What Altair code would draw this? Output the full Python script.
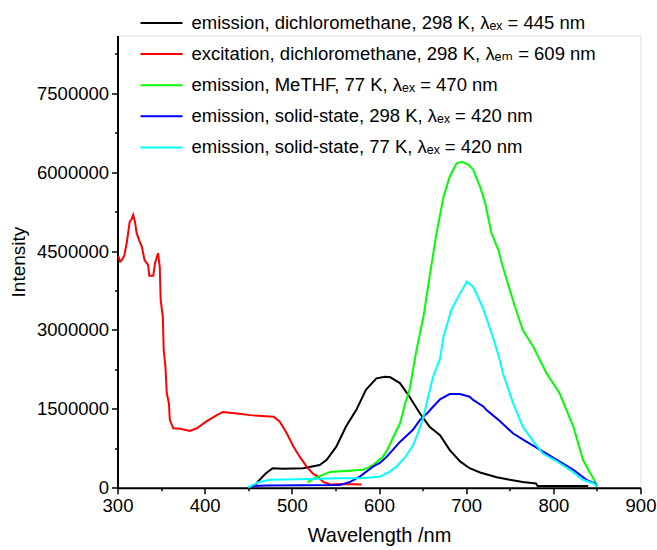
import altair as alt
import pandas as pd

# ---- data ----
labels = [
    "emission, dichloromethane, 298 K, λₑₓ = 445 nm",
    "excitation, dichloromethane, 298 K, λₑₘ = 609 nm",
    "emission, MeTHF, 77 K, λₑₓ = 470 nm",
    "emission, solid-state, 298 K, λₑₓ = 420 nm",
    "emission, solid-state, 77 K, λₑₓ = 420 nm",
]
colors = ["#000000", "#ff0000", "#00ff00", "#0000ff", "#00ffff"]

em_dcm_x = [452, 458, 463, 470, 478, 490, 513, 532, 540, 551, 562, 574, 585, 597, 607, 613, 624, 635, 647, 658, 670, 681, 693, 704, 716, 735, 750, 765, 780, 782, 840]
em_dcm_y = [0.0, 0.05, 0.15, 0.27, 0.37, 0.36, 0.37, 0.43, 0.53, 0.78, 1.16, 1.48, 1.86, 2.08, 2.11, 2.10, 1.99, 1.73, 1.41, 1.16, 1.00, 0.72, 0.50, 0.37, 0.29, 0.20, 0.15, 0.11, 0.08, 0.03, 0.03]

ex_dcm_x = [301, 303, 305, 308, 311, 314, 316, 318, 320, 322, 325, 328, 331, 335, 336.5, 341, 343, 346.5, 348.5, 349.5, 352, 353, 355, 356.5, 359, 360, 364, 372, 383, 391, 402, 414, 421, 437, 452, 479, 486, 494, 502, 509, 517, 524, 530, 536, 544, 560, 580]
ex_dcm_y = [4.40, 4.30, 4.33, 4.42, 4.70, 5.06, 5.10, 5.19, 5.06, 4.84, 4.70, 4.58, 4.33, 4.24, 4.03, 4.03, 4.27, 4.46, 4.20, 3.57, 3.25, 2.62, 2.30, 1.80, 1.60, 1.29, 1.13, 1.12, 1.08, 1.13, 1.26, 1.38, 1.44, 1.41, 1.38, 1.35, 1.26, 1.04, 0.78, 0.59, 0.40, 0.27, 0.21, 0.11, 0.06, 0.07, 0.06]

em_methf_x = [518, 525, 532, 544, 582, 593, 604, 609, 616, 624, 630, 635, 643, 651, 658, 666, 674, 681, 689, 695, 702, 708, 716, 722, 729, 737, 742, 756, 765, 777, 792, 807, 823, 834, 848, 850]
em_methf_y = [0.10, 0.17, 0.22, 0.30, 0.34, 0.43, 0.58, 0.70, 0.95, 1.22, 1.60, 1.86, 2.62, 3.25, 4.01, 4.84, 5.53, 5.91, 6.17, 6.20, 6.15, 6.05, 5.72, 5.40, 4.84, 4.52, 4.20, 3.44, 3.00, 2.68, 2.18, 1.80, 1.16, 0.53, 0.11, 0.03]

em_ss298_x = [450, 455, 470, 555, 567, 578, 593, 601, 609, 624, 639, 647, 655, 662, 670, 681, 693, 704, 708, 720, 723, 737, 754, 769, 785, 804, 823, 838, 848, 850]
em_ss298_y = [0.0, 0.03, 0.04, 0.05, 0.11, 0.21, 0.40, 0.47, 0.59, 0.87, 1.10, 1.29, 1.41, 1.54, 1.68, 1.78, 1.78, 1.73, 1.67, 1.54, 1.48, 1.29, 1.03, 0.875, 0.72, 0.53, 0.34, 0.15, 0.08, 0.03]

em_ss77_x = [450, 455, 463, 475, 509, 555, 578, 601, 612, 620, 630, 639, 645, 651, 656, 662, 670, 674, 683, 693, 701, 708, 713, 720, 731, 739, 742, 754, 765, 777, 788, 804, 819, 834, 846, 850]
em_ss77_y = [0.0, 0.05, 0.11, 0.15, 0.16, 0.18, 0.18, 0.21, 0.30, 0.40, 0.58, 0.80, 1.05, 1.35, 1.70, 2.11, 2.45, 2.87, 3.38, 3.70, 3.92, 3.82, 3.65, 3.38, 2.85, 2.40, 2.18, 1.60, 1.16, 0.88, 0.65, 0.50, 0.34, 0.15, 0.08, 0.03]

x_ticks = [300, 350, 400, 450, 500, 550, 600, 650, 700, 750, 800, 850, 900]
y_ticks = [0, 750000, 1500000, 2250000, 3000000, 3750000, 4500000, 5250000, 6000000, 6750000, 7500000, 8250000]

series = [
    (labels[0], em_dcm_x, em_dcm_y),
    (labels[1], ex_dcm_x, ex_dcm_y),
    (labels[2], em_methf_x, em_methf_y),
    (labels[3], em_ss298_x, em_ss298_y),
    (labels[4], em_ss77_x, em_ss77_y),
]
rows = []
for name, xs, ys in series:
    for i, (xv, yv) in enumerate(zip(xs, ys)):
        rows.append({"series": name, "wl": xv, "intensity": yv * 1e6, "order": i})
df = pd.DataFrame(rows)

FONT = "Liberation Sans, Arial, DejaVu Sans"
Y_MAX = 8600000
PX_PER_UNIT = 394.4 / 7500000
H = round(Y_MAX * PX_PER_UNIT, 1)
TOP = round(487.7 - H, 1)

chart = alt.Chart(df).mark_line(strokeWidth=2, interpolate="linear").encode(
    x=alt.X("wl:Q", title="Wavelength /nm",
            scale=alt.Scale(domain=[300, 900], nice=False, zero=False),
            axis=alt.Axis(values=x_ticks, format="d", labelFlush=False, labelOverlap=False,
                          labelExpr="datum.value % 100 === 0 ? datum.label : ''",
                          tickSize={"condition": {"test": "datum.value % 100 === 0", "value": 6}, "value": 3},
                          grid=False, domainColor="black", domainWidth=2,
                          tickColor="black", tickWidth=1.5,
                          labelFont=FONT, labelFontSize=18.5, labelColor="black", labelPadding=3,
                          titleFont=FONT, titleFontSize=20, titleFontWeight="normal",
                          titleColor="black", titlePadding=10)),
    y=alt.Y("intensity:Q", title="Intensity",
            scale=alt.Scale(domain=[0, Y_MAX], nice=False),
            axis=alt.Axis(values=y_ticks, format="d", labelFlush=False, labelOverlap=False,
                          labelExpr="datum.value % 1500000 === 0 ? datum.label : ''",
                          tickSize={"condition": {"test": "datum.value % 1500000 === 0", "value": 6}, "value": 3},
                          grid=False, domainColor="black", domainWidth=2,
                          tickColor="black", tickWidth=1.5,
                          labelFont=FONT, labelFontSize=18.5, labelColor="black", labelPadding=3,
                          titleFont=FONT, titleFontSize=19, titleFontWeight="normal",
                          titleColor="black", titlePadding=8)),
    color=alt.Color("series:N", sort=labels,
                    scale=alt.Scale(domain=labels, range=colors),
                    legend=alt.Legend(title=None, orient="none", legendX=22,
                                      legendY=round(13 - TOP, 1),
                                      symbolType="stroke", symbolSize=1764,
                                      symbolStrokeWidth=2, clipHeight=20, rowPadding=11.1,
                                      labelFont=FONT, labelFontSize=18.5, labelColor="black",
                                      labelLimit=600, labelOffset=8, padding=0)),
    order="order:Q",
).properties(
    width=523, height=H,
    padding={"left": 117.5, "top": TOP, "right": 16.5, "bottom": 62},
    autosize=alt.AutoSizeParams(type="none"),
).configure_view(stroke=None).configure(background="white")

chart.save("out.html", embed_options={"renderer": "svg", "actions": False})
